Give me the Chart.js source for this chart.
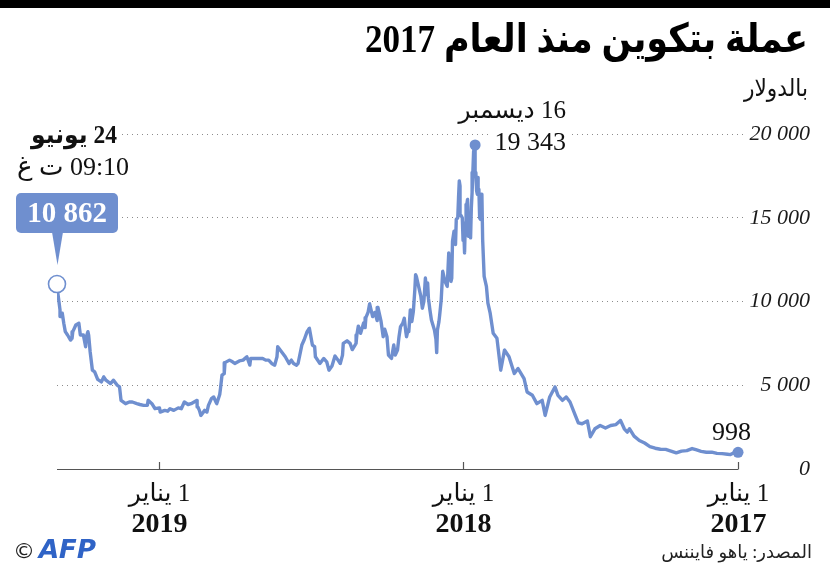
<!DOCTYPE html>
<html><head><meta charset="utf-8">
<script src="https://cdn.jsdelivr.net/npm/chart.js@4.4.1/dist/chart.umd.min.js"></script>
<style>html,body{margin:0;padding:0;background:#fff;}canvas{display:block;}</style>
</head><body>
<canvas id="c" width="830" height="571"></canvas>
<script>
// ---- data ----
const dates = [
'2017-01-01','2017-01-04','2017-01-07','2017-01-11','2017-01-15','2017-01-22','2017-01-29','2017-02-05','2017-02-12','2017-02-19',
'2017-02-26','2017-03-03','2017-03-10','2017-03-17','2017-03-24','2017-03-31','2017-04-07','2017-04-14','2017-04-21','2017-04-28',
'2017-05-05','2017-05-12','2017-05-19','2017-05-25','2017-05-28','2017-06-01','2017-06-06','2017-06-12','2017-06-19','2017-06-26',
'2017-07-03','2017-07-10','2017-07-16','2017-07-20','2017-07-27','2017-08-01','2017-08-05','2017-08-12','2017-08-17','2017-08-22',
'2017-08-28','2017-09-01','2017-09-08','2017-09-14','2017-09-18','2017-09-25','2017-10-01','2017-10-08','2017-10-12','2017-10-20',
'2017-10-25','2017-11-01','2017-11-07','2017-11-12','2017-11-17','2017-11-22','2017-11-26','2017-11-29','2017-12-01','2017-12-04',
'2017-12-06','2017-12-07','2017-12-08','2017-12-09','2017-12-10','2017-12-11','2017-12-12','2017-12-13','2017-12-14','2017-12-15',
'2017-12-16','2017-12-17','2017-12-18','2017-12-19','2017-12-20','2017-12-21','2017-12-22','2017-12-23','2017-12-24','2017-12-25',
'2017-12-26','2017-12-27','2017-12-28','2017-12-29','2017-12-30','2017-12-31','2018-01-01','2018-01-02','2018-01-04','2018-01-05',
'2018-01-06','2018-01-07','2018-01-08','2018-01-10','2018-01-11','2018-01-13','2018-01-15','2018-01-16','2018-01-17','2018-01-19',
'2018-01-20','2018-01-22','2018-01-25','2018-01-28','2018-01-30','2018-02-01','2018-02-02','2018-02-04','2018-02-05','2018-02-06',
'2018-02-08','2018-02-10','2018-02-12','2018-02-14','2018-02-16','2018-02-17','2018-02-18','2018-02-20','2018-02-22','2018-02-24',
'2018-02-26','2018-03-01','2018-03-04','2018-03-05','2018-03-06','2018-03-08','2018-03-10','2018-03-12','2018-03-14','2018-03-15',
'2018-03-17','2018-03-18','2018-03-20','2018-03-22','2018-03-25','2018-03-27','2018-03-29','2018-04-01','2018-04-03','2018-04-06',
'2018-04-10','2018-04-12','2018-04-15','2018-04-17','2018-04-20','2018-04-24','2018-04-25','2018-04-28','2018-05-01','2018-05-05',
'2018-05-07','2018-05-10','2018-05-11','2018-05-13','2018-05-17','2018-05-20','2018-05-22','2018-05-23','2018-05-28','2018-05-31',
'2018-06-04','2018-06-09','2018-06-10','2018-06-13','2018-06-16','2018-06-20','2018-06-24','2018-06-28','2018-07-01','2018-07-05',
'2018-07-10','2018-07-16','2018-07-17','2018-07-20','2018-07-24','2018-07-27','2018-07-31','2018-08-03','2018-08-08','2018-08-10',
'2018-08-14','2018-08-17','2018-08-20','2018-08-25','2018-08-30','2018-09-04','2018-09-05','2018-09-08','2018-09-12','2018-09-16',
'2018-09-20','2018-09-24','2018-09-30','2018-10-05','2018-10-10','2018-10-11','2018-10-15','2018-10-20','2018-10-25','2018-10-31',
'2018-11-03','2018-11-07','2018-11-13','2018-11-14','2018-11-17','2018-11-19','2018-11-20','2018-11-24','2018-11-25','2018-11-28',
'2018-12-01','2018-12-05','2018-12-07','2018-12-10','2018-12-15','2018-12-17','2018-12-19','2018-12-20','2018-12-24','2018-12-28',
'2019-01-01','2019-01-06','2019-01-10','2019-01-14','2019-01-20','2019-01-25','2019-01-28','2019-02-01','2019-02-07','2019-02-08',
'2019-02-14','2019-02-18','2019-02-23','2019-02-24','2019-03-01','2019-03-06','2019-03-10','2019-03-16','2019-03-20','2019-03-25',
'2019-03-31','2019-04-02','2019-04-05','2019-04-10','2019-04-14','2019-04-20','2019-04-23','2019-04-26','2019-05-01','2019-05-05',
'2019-05-08','2019-05-11','2019-05-13','2019-05-14','2019-05-16','2019-05-17','2019-05-20','2019-05-24','2019-05-26','2019-05-30',
'2019-06-03','2019-06-04','2019-06-06','2019-06-10','2019-06-13','2019-06-15','2019-06-17','2019-06-19','2019-06-20','2019-06-22',
'2019-06-24'
];
const prices = [
998,1060,950,860,880,920,930,1010,1000,1050,
1150,1220,1100,1070,960,1070,1170,1180,1240,1340,
1550,1700,1960,2400,2200,2400,2900,2650,2600,2450,
2600,2400,1930,2870,2700,2750,3200,4000,4300,4100,
4400,4900,4300,3200,4100,3900,4400,4600,5400,6000,
5700,6700,7100,5900,7800,8100,9300,9900,10900,11500,
13700,16400,16000,14900,15000,16700,17400,16400,16600,17700,
19343,19100,18950,17700,16500,15600,13800,14600,14000,13900,
16100,15800,14600,14700,12900,14150,13650,15000,15150,16900,
17200,16200,15000,14900,13400,14200,13600,11400,11200,11650,
12900,10900,11200,11800,10100,9200,8800,8300,6950,7750,
8300,8600,8900,9500,10200,11100,10400,11400,10000,9600,
10300,10900,11500,11600,10700,9400,8800,9500,8200,8300,
7900,8200,9000,8700,8500,7900,7100,6800,7400,6600,
6800,7900,8350,7900,8850,9650,8860,9350,9100,9860,
9370,9030,8440,8720,8100,8530,8000,7500,7130,7500,
7650,7500,6800,6300,6500,6750,6150,5900,6400,6600,
6300,6700,7300,7400,8400,8200,7700,7400,6300,6200,
6300,6500,6300,6700,7000,7300,6700,6200,6300,6500,
6500,6600,6600,6600,6600,6200,6700,6500,6450,6300,
6400,6500,6350,5700,5600,4800,4450,3900,4000,4300,
4200,3800,3400,3500,3200,3500,3700,4100,4000,3900,
3850,4000,3600,3650,3500,3600,3450,3500,3400,3650,
3600,3900,4100,3800,3800,3850,3900,4000,4000,3900,
4100,4900,5000,5300,5100,5300,5500,5200,5350,5800,
5900,7000,8000,8200,7900,7300,8000,8000,8700,8600,
8200,7800,7700,8000,8200,8700,9300,9100,9500,10200,
10862
];
const yTickValues = [0, 5000, 10000, 15000, 20000];
// x ticks: positions follow where the reference draws them
const xTickDates = ['2017-01-01', '2018-01-01', '2019-02-08'];
const xTickLine1 = ['1 يناير', '1 يناير', '1 يناير'];
const xTickYears = ['2017', '2018', '2019'];

const title = 'عملة بتكوين منذ العام 2017';
const subtitle = 'بالدولار';
const source = 'المصدر: ياهو فايننس';
const peakDateLabel = '16 ديسمبر';
const peakValueLabel = '19 343';
const lastDateLabel = '24 يونيو';
const lastTimeLabel = '09:10 ت غ';
const lastValueLabel = '10 862';
const firstValueLabel = '998';

// ---- helpers ----
const DAY0 = Date.UTC(2017, 0, 1);
const toDay = s => (Date.parse(s + 'T00:00:00Z') - DAY0) / 86400000;
const points = dates.map((d, i) => ({ x: toDay(d), y: prices[i] }));
const lineColor = '#6f8fcf';
const SERIF = "'Liberation Serif', 'DejaVu Sans', serif";

function txt(c, s, x, y, font, align, color, rtl, maxW) {
  c.font = font; c.textAlign = align; c.fillStyle = color || '#111';
  c.direction = rtl ? 'rtl' : 'ltr'; c.textBaseline = 'alphabetic';
  if (maxW) c.fillText(s, x, y, maxW); else c.fillText(s, x, y);
}

const deco = {
  id: 'deco',
  afterDraw(chart) {
    const c = chart.ctx, xs = chart.scales.x, ys = chart.scales.y;
    c.save();
    // top black band
    c.fillStyle = '#000'; c.fillRect(0, 0, 830, 8);
    // title & subtitle
    txt(c, title, 808, 52, "bold 40px " + SERIF, 'right', '#000', true, 443);
    txt(c, subtitle, 808, 96, "24px " + SERIF, 'right', '#111', true, 64);

    // baseline + upward ticks
    const y0 = ys.getPixelForValue(0);
    const xl = xs.getPixelForValue(points[points.length - 1].x);
    const xr = xs.getPixelForValue(points[0].x);
    c.strokeStyle = '#555'; c.lineWidth = 1.2; c.setLineDash([]);
    c.beginPath(); c.moveTo(xl, y0 + 0.5); c.lineTo(xr, y0 + 0.5); c.stroke();
    xTickDates.forEach((d, i) => {
      const px = Math.round(xs.getPixelForValue(toDay(d))) + 0.5;
      c.beginPath(); c.moveTo(px, y0 - 7); c.lineTo(px, y0 + 0.5); c.stroke();
      txt(c, xTickLine1[i], px, 501, "25px " + SERIF, 'center', '#111', true);
      txt(c, xTickYears[i], px, 532, "bold 28px " + SERIF, 'center', '#111', false);
    });

    // peak annotation
    let pi = 0; prices.forEach((v, i) => { if (v > prices[pi]) pi = i; });
    const px = xs.getPixelForValue(points[pi].x), py = ys.getPixelForValue(points[pi].y);
    c.fillStyle = '#fff'; c.fillRect(489, 124, 82, 30);
    txt(c, peakDateLabel, 566, 118, "25px " + SERIF, 'right', '#111', true);
    txt(c, peakValueLabel, 566, 150, "26px " + SERIF, 'right', '#111', false);
    c.fillStyle = lineColor; c.beginPath(); c.arc(px, py, 5.5, 0, Math.PI * 2); c.fill();

    // first point
    const fx = xs.getPixelForValue(points[0].x), fy = ys.getPixelForValue(points[0].y);
    c.beginPath(); c.arc(fx, fy, 5.5, 0, Math.PI * 2); c.fill();
    txt(c, firstValueLabel, 751, 440, "26px " + SERIF, 'right', '#111', false);

    // last point callout
    const lx = xs.getPixelForValue(points[points.length - 1].x), ly = ys.getPixelForValue(points[points.length - 1].y);
    c.fillStyle = '#fff'; c.fillRect(0, 118, 122, 66);
    txt(c, lastDateLabel, 74, 143, "bold 26px " + SERIF, 'center', '#111', true, 86);
    txt(c, lastTimeLabel, 73, 175, "26px " + SERIF, 'center', '#111', true, 116);
    c.fillStyle = lineColor;
    c.beginPath(); c.roundRect(16, 193, 102, 40, 5); c.fill();
    c.beginPath(); c.moveTo(52, 232); c.lineTo(63, 232); c.lineTo(lx + 0.5, 265); c.closePath(); c.fill();
    txt(c, lastValueLabel, 67, 222, "bold 29px " + SERIF, 'center', '#fff', false);
    c.fillStyle = '#fff'; c.strokeStyle = lineColor; c.lineWidth = 1.6;
    c.beginPath(); c.arc(lx, ly - 3, 8.5, 0, Math.PI * 2); c.fill(); c.stroke();

    // source + logo
    txt(c, source, 812, 558, "18px " + SERIF, 'right', '#222', true, 158);
    txt(c, '\u00A9', 24, 558, "22px 'DejaVu Sans'", 'center', '#222', false);
    c.save(); c.translate(37, 558); c.transform(1, 0, -0.2, 1, 0, 0);
    txt(c, 'AFP', 0, 0, "bold 26px 'DejaVu Sans'", 'left', '#2f63c6', false, 64);
    c.restore();
    c.restore();
  }
};

new Chart(document.getElementById('c').getContext('2d'), {
  type: 'line',
  data: { datasets: [{ data: points, borderColor: lineColor, borderWidth: 3.4, pointRadius: 0,
    tension: 0, borderJoinStyle: 'round', borderCapStyle: 'round', fill: false }] },
  options: {
    responsive: false, animation: false, devicePixelRatio: 1,
    layout: { padding: { left: 57, right: 20, top: 134, bottom: 102 } },
    plugins: { legend: { display: false }, tooltip: { enabled: false } },
    scales: {
      x: { type: 'linear', reverse: true, min: -6.6, max: toDay('2019-06-24'), display: false },
      y: {
        position: 'right', min: 0, max: 20000,
        afterBuildTicks: s => { s.ticks = yTickValues.map(v => ({ value: v })); },
        afterFit: s => { s.width = 67; },
        grid: { drawTicks: false, lineWidth: 1,
          color: ctx => (ctx.tick && ctx.tick.value === 0) ? 'rgba(0,0,0,0)' : '#8c8c8c' },
        border: { display: false, dash: [1, 4] },
        ticks: {
          crossAlign: 'far', padding: 6, color: '#1a1a1a',
          font: { family: "'Liberation Serif', serif", size: 22, style: 'italic' },
          callback: v => v === 0 ? '0' : (v / 1000) + ' 000'
        }
      }
    }
  },
  plugins: [deco]
});
</script>
</body></html>
